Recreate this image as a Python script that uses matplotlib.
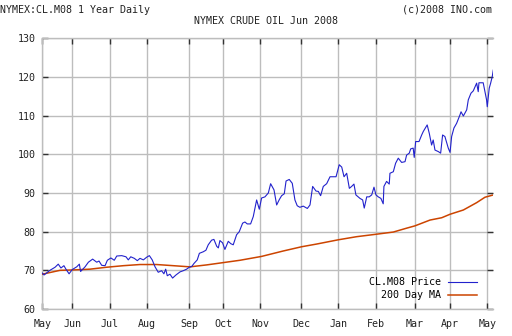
import matplotlib
matplotlib.use("Agg")
import matplotlib.pyplot as plt

# trading-day index (0 = first day in May 2007) and settle price
price_days = [0, 1, 4.3, 7.2, 9.0, 10.5, 12.2, 13.2, 15.1, 16.9, 19.4, 20.9, 21.6, 24.1, 26.0,
              28.4, 30.7, 32.0, 33.5, 35.4, 36.7, 38.7, 40.6, 42.0, 44.8, 47.2, 48.5, 49.9,
              51.9, 53.6, 55.1, 57.0, 58.9, 60.4, 62.0, 63.6, 65.4, 67.3, 68.6, 69.6, 70.5,
              72.0, 73.5, 75.4, 77.7, 79.5, 81.4, 82.9, 84.3, 85.6, 87.4, 88.6, 90.8, 92.3,
              93.6, 95.5, 96.8, 98.4, 99.3, 100.2, 101.7, 103.0, 104.9, 106.3, 107.7, 109.6,
              111.1, 113.0, 114.3, 115.6, 117.5, 119.0, 120.9, 122.4, 123.7, 125.6, 127.5,
              128.8, 130.7, 132.2, 133.7, 135.0, 136.5, 137.5, 139.3, 141.0, 142.5, 143.8,
              145.3, 147.2, 149.5, 151.0, 152.5, 154.4, 155.7, 157.0, 158.5, 160.4, 162.3,
              164.1, 165.7, 167.5, 168.9, 170.2, 171.7, 173.2, 174.5, 175.8, 176.9, 179.2,
              180.7, 181.6, 183.0, 184.4, 185.8, 187.1, 188.2, 189.5, 191.0, 192.3, 192.7,
              194.2, 195.7, 196.1, 198.0, 199.3, 200.8, 202.7, 204.6, 205.5, 207.0, 207.8,
              209.2, 209.8, 210.6, 212.5, 214.0, 214.9, 217.1, 218.3, 219.6, 220.5, 221.5,
              223.4, 224.7, 225.8, 227.1, 229.0, 230.0, 230.9, 232.2, 233.7, 235.6, 236.2,
              237.5, 239.4, 240.3, 241.8, 243.1, 245.0, 245.9, 246.3, 248.7, 249.3, 250.6,
              251.0, 252.1, 252.9, 253.8, 254.4]
price = [69.3, 68.8, 70.0, 70.8, 71.6, 70.6, 71.2, 70.4, 69.1, 70.2, 70.9, 71.6, 69.7, 70.9, 72.1,
         72.9, 72.1, 72.4, 71.3, 71.2, 72.6, 73.2, 72.6, 73.7, 73.8, 73.5, 72.7, 73.5,
         73.1, 72.5, 73.1, 72.7, 73.4, 73.8, 72.7, 70.9, 69.5, 69.9, 69.1, 70.3, 68.6,
         69.0, 68.0, 68.8, 69.6, 69.9, 70.3, 70.8, 71.0, 71.8, 72.7, 74.4, 74.8, 75.2,
         76.6, 77.8, 78.0, 76.2, 75.8, 77.7, 77.1, 75.4, 77.5, 76.9, 76.6, 79.2,
         80.0, 82.2, 82.5, 82.0, 82.0, 83.9, 88.2, 85.8, 88.7, 89.0, 90.0,
         92.4, 90.8, 86.9, 88.3, 89.3, 89.8, 93.1, 93.5, 92.5, 88.2, 86.7,
         86.3, 86.6, 86.0, 86.9, 91.7, 90.5, 90.4, 89.3, 91.7, 92.4, 94.2,
         94.2, 94.2, 97.3, 96.7, 94.2, 95.1, 91.2, 91.7, 92.3, 89.5, 88.6,
         88.2, 86.1, 89.0, 89.0, 89.5, 91.5, 89.5, 89.0, 88.6, 87.2, 91.7,
         93.0, 92.3, 95.1, 95.5, 97.7, 99.0, 97.9, 98.1, 99.8, 100.3, 101.4,
         101.6, 99.2, 103.3, 103.3, 105.0, 105.9, 107.6, 105.4, 102.4, 103.7, 101.1,
         100.7, 100.3, 105.0, 104.6, 101.6, 100.5, 104.6, 106.8, 108.0, 110.2, 111.0,
         109.9, 111.5, 114.1, 115.8, 116.4, 118.4, 116.2, 118.5, 118.5, 117.1, 114.1,
         112.3, 117.1, 118.4, 120.1, 121.8]

ma_days = [0, 10.0, 17.5, 26.9, 36.3, 45.7, 55.1, 64.5, 73.9, 83.3, 92.7, 102.1, 111.5,
           123.7, 135.9, 146.3, 154.8, 167.0, 177.3, 187.8, 198.0, 205.5, 210.2, 218.7,
           225.3, 230.0, 237.5, 245.0, 249.7, 254.4]
ma200 = [69.0, 70.0, 70.1, 70.3, 70.8, 71.2, 71.5, 71.5, 71.2, 70.9, 71.4, 72.0, 72.6,
         73.6, 75.0, 76.1, 76.8, 77.9, 78.7, 79.3, 79.9, 80.9, 81.5, 83.0,
         83.6, 84.5, 85.6, 87.5, 88.9, 89.5]

month_days = [0, 17, 38, 59, 83, 102, 123, 146, 167, 188, 210, 230, 251]
month_labels = ["May", "Jun", "Jul", "Aug", "Sep", "Oct", "Nov", "Dec",
                "Jan", "Feb", "Mar", "Apr", "May"]
y_ticks = [60, 70, 80, 90, 100, 110, 120, 130]

plt.rcParams["font.family"] = "DejaVu Sans Mono"
fs = 7.2
grid_c = "#bdbdbd"
txt_c = "#222222"

fig = plt.figure(figsize=(5.12, 3.36), dpi=100)
ax = fig.add_axes([42.3 / 512, 1 - 309 / 336, (493.3 - 42.3) / 512, (309 - 38.3) / 336])

ax.plot(ma_days, ma200, color="#cc4400", lw=1.1, label="200 Day MA", zorder=3)
ax.plot(price_days, price, color="#2222cc", lw=0.8, label="CL.M08 Price", zorder=4)

ax.set_xlim(0, 254.4)
ax.set_ylim(60, 130)
ax.set_xticks(month_days)
ax.set_xticklabels(month_labels)
ax.set_yticks(y_ticks)
ax.grid(True, color=grid_c, lw=1.0)
ax.set_axisbelow(True)

for side in ["left", "bottom", "top"]:
    ax.spines[side].set_color(grid_c)
    ax.spines[side].set_linewidth(1.0)
ax.spines["right"].set_visible(False)

ax.tick_params(axis="both", direction="in", length=4, width=1, color="#333333",
               labelsize=fs, labelcolor=txt_c, top=True, right=True)
ax.tick_params(axis="x", pad=7)
ax.tick_params(axis="y", pad=5)

# legend: text first, line after, no frame
handles, labels = ax.get_legend_handles_labels()
ax.legend(handles[::-1], labels[::-1], loc="lower right", frameon=False,
          markerfirst=False, fontsize=fs, handlelength=2.9, handletextpad=0.7,
          borderpad=0, labelspacing=0.3,
          bbox_to_anchor=(482 / 512, 1 - 305 / 336), bbox_transform=fig.transFigure)

fig.text(0, 1 - 10 / 336, "NYMEX:CL.M08 1 Year Daily", fontsize=fs, color=txt_c,
         ha="left", va="center")
fig.text(492 / 512, 1 - 10 / 336, "(c)2008 INO.com", fontsize=fs, color=txt_c,
         ha="right", va="center")
fig.text(266 / 512, 1 - 21 / 336, "NYMEX CRUDE OIL Jun 2008", fontsize=fs, color=txt_c,
         ha="center", va="center")

fig.savefig("out.png", dpi=100, facecolor="white")
